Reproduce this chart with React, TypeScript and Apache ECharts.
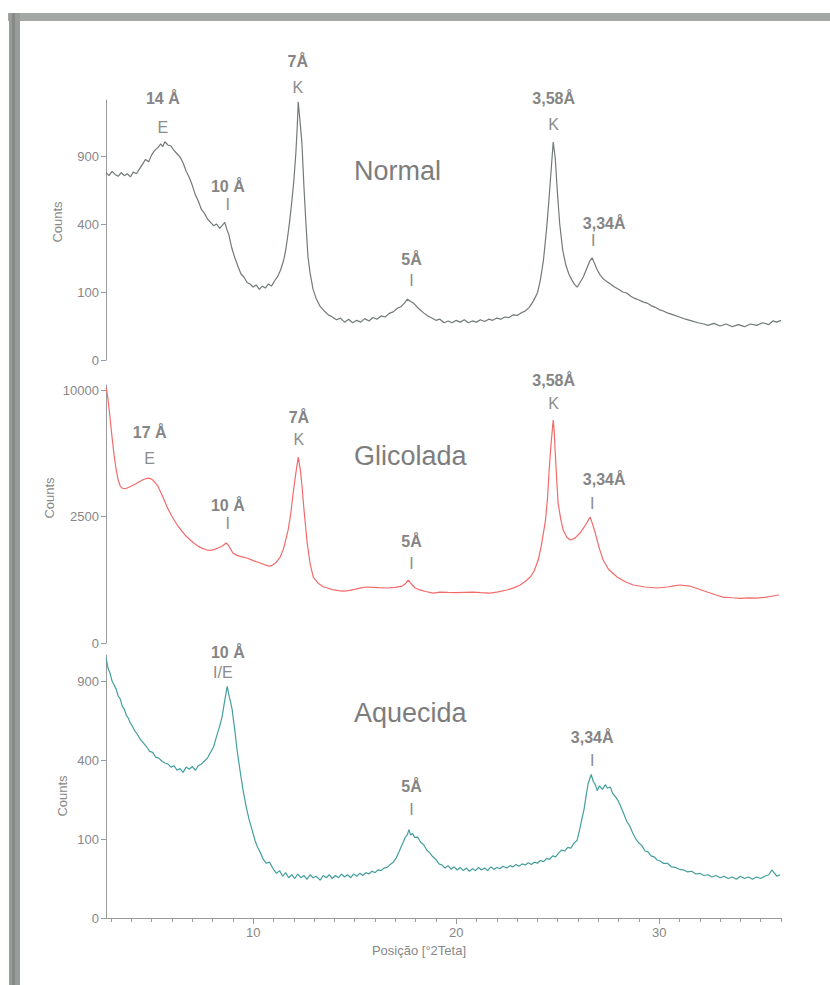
import React, { useEffect, useRef } from 'react';
import * as echarts from 'echarts';

// ---- data: 2θ (degrees) and counts ----
const normalData: [number, number][] = [
  [2.76,760],[2.9,735],[3.05,770],[3.2,745],[3.35,730],[3.5,760],[3.65,735],[3.8,750],[3.95,725],[4.1,765],[4.25,750],[4.4,790],[4.55,830],[4.7,870],[4.85,850],[5.0,910],[5.15,950],[5.3,975],[5.45,1010],[5.55,985],[5.65,1030],[5.8,1000],[5.95,990],[6.1,950],[6.25,920],[6.4,890],[6.55,840],[6.7,770],[6.85,720],[7.0,660],[7.15,590],[7.3,545],[7.45,490],[7.6,465],[7.75,430],[7.9,410],[8.05,390],[8.2,400],[8.35,375],[8.5,395],[8.6,410],[8.7,370],[8.8,340],[8.95,270],[9.1,225],[9.25,190],[9.4,160],[9.55,148],[9.7,130],[9.85,125],[10.0,115],[10.15,122],[10.3,108],[10.45,118],[10.6,112],[10.75,125],[10.9,118],[11.05,135],[11.2,150],[11.35,175],[11.5,215],[11.6,260],[11.7,330],[11.8,420],[11.9,540],[12.0,690],[12.1,920],[12.17,1180],[12.22,1440],[12.3,1250],[12.4,1020],[12.5,650],[12.6,400],[12.7,230],[12.8,165],[12.95,108],[13.1,82],[13.3,62],[13.5,52],[13.7,44],[13.9,40],[14.1,35],[14.3,38],[14.5,31],[14.7,36],[14.9,30],[15.1,34],[15.3,31],[15.5,37],[15.7,33],[15.9,39],[16.1,36],[16.3,42],[16.5,40],[16.7,47],[16.9,50],[17.1,58],[17.3,62],[17.45,70],[17.6,80],[17.75,74],[17.9,70],[18.05,62],[18.2,55],[18.4,48],[18.6,42],[18.8,38],[19.0,34],[19.2,36],[19.4,30],[19.6,33],[19.8,30],[20.0,34],[20.2,31],[20.4,35],[20.6,30],[20.8,33],[21.0,31],[21.2,35],[21.4,32],[21.6,36],[21.8,34],[22.0,38],[22.2,36],[22.4,40],[22.6,39],[22.8,44],[23.0,43],[23.2,48],[23.4,52],[23.6,60],[23.8,75],[24.0,97],[24.15,140],[24.3,216],[24.45,370],[24.55,520],[24.65,720],[24.78,1028],[24.88,880],[24.98,620],[25.1,400],[25.25,260],[25.4,195],[25.55,160],[25.7,138],[25.85,122],[25.96,115],[26.1,130],[26.26,149],[26.45,185],[26.6,215],[26.7,225],[26.8,205],[26.95,175],[27.1,155],[27.25,142],[27.44,132],[27.6,125],[27.8,115],[28.0,108],[28.2,100],[28.4,97],[28.6,88],[28.8,82],[29.0,78],[29.2,73],[29.4,70],[29.6,64],[29.8,60],[30.0,55],[30.2,52],[30.4,48],[30.7,44],[31.0,40],[31.3,36],[31.6,33],[31.9,30],[32.2,28],[32.4,26],[32.7,29],[33.0,25],[33.3,28],[33.6,24],[33.9,27],[34.2,24],[34.5,28],[34.8,26],[35.1,30],[35.4,27],[35.6,33],[35.8,31],[36.0,34]
];

const glicoladaData: [number, number][] = [
  [2.76,10200],[2.85,9300],[2.96,7770],[3.05,6600],[3.15,5500],[3.25,4700],[3.35,4150],[3.45,3850],[3.55,3750],[3.7,3720],[3.85,3780],[4.0,3850],[4.2,3950],[4.4,4080],[4.6,4180],[4.83,4250],[5.0,4200],[5.15,4050],[5.3,3850],[5.5,3450],[5.76,2890],[6.0,2500],[6.26,2175],[6.5,1950],[6.7,1780],[6.9,1657],[7.1,1550],[7.3,1460],[7.5,1400],[7.73,1351],[7.9,1340],[8.1,1370],[8.3,1420],[8.5,1480],[8.67,1562],[8.8,1480],[9.0,1265],[9.2,1200],[9.45,1160],[9.7,1129],[10.0,1060],[10.34,1000],[10.55,960],[10.74,926],[10.9,935],[11.1,1000],[11.33,1155],[11.5,1400],[11.72,1995],[11.85,2600],[11.97,3515],[12.1,4500],[12.22,5404],[12.32,4700],[12.41,3802],[12.5,2800],[12.66,1562],[12.8,1000],[12.96,680],[13.2,560],[13.45,495],[13.65,473],[13.9,445],[14.2,430],[14.43,422],[14.7,430],[15.0,450],[15.3,475],[15.6,490],[15.9,485],[16.2,478],[16.6,473],[17.0,485],[17.34,507],[17.5,550],[17.64,620],[17.8,540],[17.98,473],[18.2,440],[18.5,415],[18.87,390],[19.2,406],[19.6,400],[20.0,398],[20.4,402],[20.84,406],[21.2,398],[21.67,390],[22.0,405],[22.5,439],[22.8,470],[23.15,526],[23.4,590],[23.65,680],[23.85,820],[24.04,1076],[24.2,1500],[24.4,2363],[24.5,3300],[24.58,4676],[24.68,6300],[24.78,7770],[24.83,7000],[24.88,5640],[24.95,4200],[25.02,3062],[25.15,2400],[25.27,1995],[25.45,1750],[25.62,1657],[25.85,1720],[26.1,1890],[26.35,2150],[26.6,2480],[26.72,2200],[26.85,1890],[27.05,1400],[27.24,1076],[27.5,850],[27.93,680],[28.3,590],[28.72,526],[29.3,490],[29.9,473],[30.4,490],[30.8,515],[31.03,526],[31.5,507],[31.9,460],[32.36,406],[32.8,360],[33.15,330],[33.6,320],[34.0,312],[34.4,318],[34.8,316],[35.2,325],[35.6,345],[35.9,360]
];

const aquecidaData: [number, number][] = [
  [2.76,1080],[2.85,1000],[2.95,960],[3.05,900],[3.15,870],[3.25,840],[3.35,790],[3.45,770],[3.55,720],[3.65,700],[3.75,660],[3.85,640],[3.95,610],[4.05,590],[4.15,565],[4.3,540],[4.45,510],[4.6,490],[4.75,470],[4.9,445],[5.05,440],[5.2,415],[5.35,410],[5.5,395],[5.65,385],[5.8,380],[5.95,365],[6.1,372],[6.25,350],[6.4,358],[6.55,340],[6.7,365],[6.85,355],[7.0,368],[7.15,350],[7.3,372],[7.45,380],[7.6,395],[7.75,410],[7.9,440],[8.05,470],[8.2,530],[8.35,590],[8.47,650],[8.6,760],[8.72,860],[8.8,800],[8.9,740],[8.96,700],[9.1,560],[9.21,450],[9.35,350],[9.5,263],[9.65,200],[9.8,155],[9.95,124],[10.1,95],[10.2,82],[10.34,70],[10.5,55],[10.65,48],[10.8,50],[11.0,38],[11.15,32],[11.3,36],[11.45,28],[11.6,33],[11.75,26],[11.9,30],[12.05,25],[12.2,31],[12.35,26],[12.5,29],[12.65,24],[12.8,30],[12.95,26],[13.1,28],[13.3,23],[13.45,29],[13.6,26],[13.75,30],[13.9,25],[14.05,29],[14.2,26],[14.35,31],[14.5,27],[14.65,30],[14.8,26],[14.95,31],[15.1,28],[15.25,32],[15.4,29],[15.55,33],[15.7,31],[15.85,35],[16.0,33],[16.15,37],[16.3,36],[16.45,40],[16.6,41],[16.75,46],[16.9,50],[17.05,58],[17.2,72],[17.35,88],[17.5,105],[17.6,112],[17.67,125],[17.75,110],[17.85,115],[17.95,104],[18.1,105],[18.25,92],[18.4,86],[18.55,74],[18.7,68],[18.85,60],[19.0,55],[19.15,47],[19.3,45],[19.45,40],[19.6,44],[19.75,38],[19.9,42],[20.05,37],[20.2,41],[20.35,36],[20.5,40],[20.65,35],[20.8,39],[20.95,36],[21.1,41],[21.25,37],[21.4,40],[21.55,36],[21.7,42],[21.85,38],[22.0,41],[22.15,39],[22.3,43],[22.5,40],[22.65,44],[22.8,42],[22.95,46],[23.1,43],[23.25,47],[23.4,45],[23.55,49],[23.7,46],[23.85,50],[24.0,48],[24.15,53],[24.3,51],[24.45,57],[24.6,55],[24.75,62],[24.9,60],[25.05,68],[25.2,74],[25.35,72],[25.5,80],[25.65,78],[25.8,90],[25.96,97],[26.1,130],[26.2,160],[26.3,190],[26.4,240],[26.5,290],[26.65,330],[26.75,300],[26.85,285],[26.95,260],[27.05,280],[27.2,265],[27.35,285],[27.45,270],[27.59,275],[27.7,250],[27.85,235],[27.98,220],[28.1,200],[28.25,175],[28.4,150],[28.57,133],[28.7,115],[28.85,100],[29.0,90],[29.15,84],[29.3,72],[29.45,70],[29.6,62],[29.75,60],[29.9,54],[30.05,52],[30.2,48],[30.4,48],[30.6,42],[30.8,41],[31.0,38],[31.2,37],[31.4,34],[31.6,35],[31.8,31],[32.0,32],[32.2,29],[32.4,30],[32.6,27],[32.8,29],[33.0,26],[33.2,28],[33.4,25],[33.6,27],[33.8,24],[34.0,28],[34.2,25],[34.4,27],[34.6,24],[34.8,27],[35.0,25],[35.2,28],[35.4,30],[35.55,37],[35.65,33],[35.8,28],[35.95,30]
];

const panelNames = ['Normal', 'Glicolada', 'Aquecida'];
const yTickCounts = [[0, 100, 400, 900], [0, 2500, 10000], [0, 100, 400, 900]];
const yMaxCounts = [1462, 10404, 1109];
const xLabelTicks = [10, 20, 30];
const xMinorTicks = [3,4,5,6,7,8,9,10,11,12,13,14,15,16,17,18,19,20,21,22,23,24,25,26,27,28,29,30,31,32,33,34,35,36];
const THETA_MIN = 2.75;
const THETA_MAX = 36;

// peak annotations: panel, 2θ of label, d-spacing, mineral
const peakPanel = [0, 0, 0, 0, 0, 0, 1, 1, 1, 1, 1, 1, 2, 2, 2];
const peakTheta = [5.55, 8.75, 12.2, 17.8, 24.8, 26.75, 4.9, 8.75, 12.25, 17.8, 24.8, 26.7, 8.75, 17.8, 26.7];
const peakSpacing = ['14 Å', '10 Å', '7Å', '5Å', '3,58Å', '3,34Å', '17 Å', '10 Å', '7Å', '5Å', '3,58Å', '3,34Å', '10 Å', '5Å', '3,34Å'];
const peakMineral = ['E', 'I', 'K', 'I', 'K', 'I', 'E', 'I', 'K', 'I', 'K', 'I', 'I/E', 'I', 'I'];

// layout (page pixels)
const gridTops = [100, 385, 655];
const gridHeights = [260, 258, 263];
const GRID_LEFT = 106;
const GRID_WIDTH = 675;
const spacingY = [98, 186, 61, 259, 98, 223, 432, 505, 417, 541, 380, 479, 652, 786, 737];
const mineralY = [127, 204, 87, 280, 124, 240, 458, 523, 439, 563, 403, 503, 672, 809, 760];
const spacingDX = [0, 0, 0, 0, 0, 11, 0, 0, 0, 0, 0, 12, 0, 0, 0];
const mineralDX = [0, 0, 0, 0, 0, 0, 0, 0, 0, 0, 0, 0, -5, 0, 0];
const countsLabelPos = [[57, 222], [49, 498], [62, 796]];
const titleY = [171, 456, 713];

const lineColors = ['#727a75', '#f26a6a', '#449e9e'];
const textGrey = '#878787';
const axisGrey = '#9a9a9a';
const FONT = '"Liberation Sans", Arial, sans-serif';

export default function App() {
  const ref = useRef<HTMLDivElement>(null);
  useEffect(() => {
    if (!ref.current) return;
    const chart = echarts.init(ref.current, undefined, { renderer: 'svg' });
    const datasets = [normalData, glicoladaData, aquecidaData];

    const grids = [0, 1, 2].map((i) => ({
      left: GRID_LEFT, top: gridTops[i], width: GRID_WIDTH, height: gridHeights[i], containLabel: false,
    }));

    const xAxes: any[] = [0, 1, 2].map((i) => ({
      type: 'value', gridIndex: i, min: THETA_MIN, max: THETA_MAX,
      show: i === 2,
      axisLine: { show: i === 2, lineStyle: { color: axisGrey, width: 1 } },
      axisTick: { show: i === 2, customValues: xMinorTicks, length: 4, lineStyle: { color: axisGrey } },
      axisLabel: { show: i === 2, customValues: xLabelTicks, color: textGrey, fontSize: 13, fontFamily: FONT, margin: 8 },
      splitLine: { show: false },
    }));
    xAxes.push({
      type: 'value', gridIndex: 2, min: THETA_MIN, max: THETA_MAX, position: 'bottom',
      axisLine: { show: false },
      axisTick: { show: true, customValues: xLabelTicks, length: 6, lineStyle: { color: axisGrey } },
      axisLabel: { show: false },
      splitLine: { show: false },
    });

    const yAxes = [0, 1, 2].map((i) => ({
      type: 'value', gridIndex: i, min: 0, max: Math.sqrt(yMaxCounts[i]),
      axisLine: { show: true, lineStyle: { color: axisGrey, width: 1 } },
      axisTick: { show: true, customValues: yTickCounts[i].map((v) => Math.sqrt(v)), length: 5, lineStyle: { color: axisGrey } },
      axisLabel: {
        show: true, customValues: yTickCounts[i].map((v) => Math.sqrt(v)),
        formatter: (v: number) => String(Math.round(v * v)),
        color: textGrey, fontSize: 13, fontFamily: FONT, margin: 7,
      },
      splitLine: { show: false },
    }));

    const series = datasets.map((d, i) => ({
      type: 'line', xAxisIndex: i, yAxisIndex: i, showSymbol: false, symbol: 'none',
      data: d.map(([x, c]) => [x, Math.sqrt(c)]),
      lineStyle: { color: lineColors[i], width: 1.2 },
      silent: true,
    }));

    chart.setOption({
      animation: false,
      backgroundColor: '#ffffff',
      grid: grids, xAxis: xAxes, yAxis: yAxes, series,
    });

    const graphics: any[] = [
      { type: 'rect', shape: { x: 8, y: 13, width: 822, height: 8 }, style: { fill: '#a3a8a5' }, silent: true },
      { type: 'rect', shape: { x: 9, y: 13, width: 11, height: 972 }, style: { fill: '#989d9a' }, silent: true },
      { type: 'rect', shape: { x: 12, y: 13, width: 3, height: 972 }, style: { fill: '#858a87' }, silent: true },
    ];
    panelNames.forEach((n, i) => {
      graphics.push({
        type: 'text', x: 354, y: titleY[i],
        style: { text: n, fill: '#7d7d7d', font: `27px ${FONT}`, textAlign: 'left', textVerticalAlign: 'middle' },
      });
      graphics.push({
        type: 'text', x: countsLabelPos[i][0], y: countsLabelPos[i][1], rotation: Math.PI / 2,
        style: { text: 'Counts', fill: textGrey, font: `13px ${FONT}`, textAlign: 'center', textVerticalAlign: 'middle' },
      });
    });
    peakTheta.forEach((t, k) => {
      const px = chart.convertToPixel({ xAxisIndex: peakPanel[k] }, t) as number;
      graphics.push({
        type: 'text', x: px + spacingDX[k], y: spacingY[k],
        style: { text: peakSpacing[k], fill: '#858585', font: `bold 16px ${FONT}`, textAlign: 'center', textVerticalAlign: 'middle' },
      });
      graphics.push({
        type: 'text', x: px + mineralDX[k], y: mineralY[k],
        style: { text: peakMineral[k], fill: '#8c8c8c', font: `16px ${FONT}`, textAlign: 'center', textVerticalAlign: 'middle' },
      });
    });
    graphics.push({
      type: 'text', x: 419, y: 950,
      style: { text: 'Posição [°2Teta]', fill: textGrey, font: `13px ${FONT}`, textAlign: 'center', textVerticalAlign: 'middle' },
    });

    chart.setOption({ graphic: graphics });
    return () => chart.dispose();
  }, []);

  return (
    <div style={{ position: 'fixed', left: 0, top: 0, width: 830, height: 985, background: '#fff' }}>
      <div ref={ref} style={{ width: 830, height: 985 }} />
    </div>
  );
}
